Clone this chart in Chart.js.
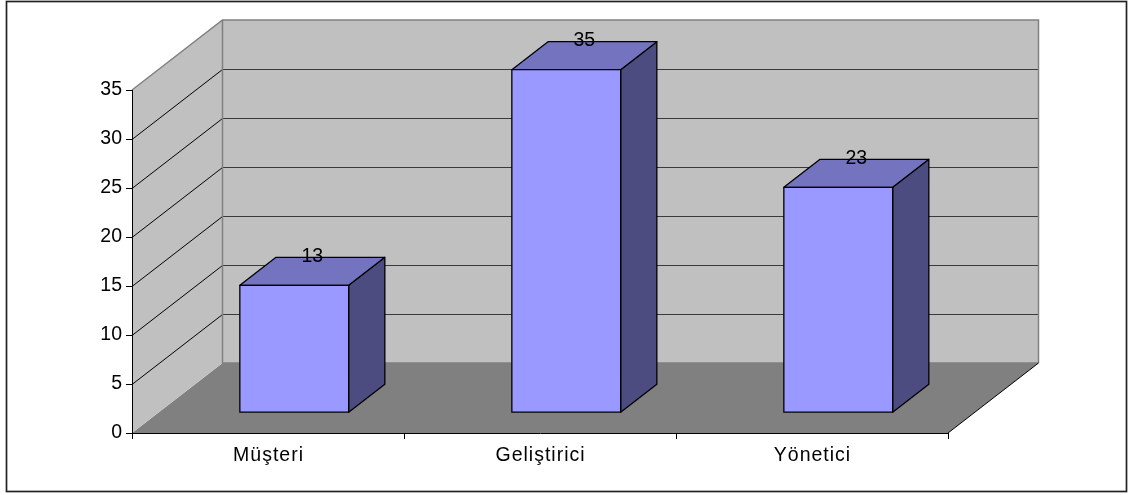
<!DOCTYPE html>
<html>
<head>
<meta charset="utf-8">
<script src="https://cdn.jsdelivr.net/npm/chart.js@4.4.0/dist/chart.umd.min.js"></script>
<style>
  html, body { margin: 0; padding: 0; background: #fff; }
  canvas { display: block; }
</style>
</head>
<body>
<canvas id="roleChart" width="1128" height="495"></canvas>
<script>
const categories = ['Müşteri', 'Geliştirici', 'Yönetici'];
const counts = [13, 35, 23];
const yMin = 0;
const yMax = 35;
const yStep = 5;

const FONT = '"Liberation Sans", Arial, sans-serif';

// oblique projection of the plot box: how far the back wall is pushed right/up
const DEPTH_X = 90.5;
const DEPTH_Y = 70;
// bars start 29% into the box and are 40% of its depth deep
const BAR_FRONT = 0.29;
const BAR_DEPTH = 0.4;

function poly(ctx, pts, fill, stroke, lw) {
    ctx.beginPath();
    ctx.moveTo(pts[0][0], pts[0][1]);
    for (let i = 1; i < pts.length; i++) ctx.lineTo(pts[i][0], pts[i][1]);
    ctx.closePath();
    if (fill) { ctx.fillStyle = fill; ctx.fill(); }
    if (stroke) { ctx.strokeStyle = stroke; ctx.lineWidth = lw || 1; ctx.stroke(); }
}

const box3d = {
    id: 'box3d',
    beforeDraw(chart) {
        const { ctx, chartArea: a, scales: { y } } = chart;
        const L = a.left, R = a.right;
        const B = y.getPixelForValue(yMin), T = y.getPixelForValue(yMax);
        const bl = L + DEPTH_X, br = R + DEPTH_X;
        ctx.save();
        // floor
        poly(ctx, [[L, B], [R, B], [br, B - DEPTH_Y], [bl, B - DEPTH_Y]], '#808080');
        // left side wall
        poly(ctx, [[L, B], [L, T], [bl, T - DEPTH_Y], [bl, B - DEPTH_Y]], '#C0C0C0');
        // back wall
        poly(ctx, [[bl, T - DEPTH_Y], [br, T - DEPTH_Y], [br, B - DEPTH_Y], [bl, B - DEPTH_Y]], '#C0C0C0');

        // gridlines on the back and side walls
        ctx.lineWidth = 1;
        for (let v = yMin + yStep; v < yMax; v += yStep) {
            const py = Math.round(y.getPixelForValue(v)) + 0.5;
            ctx.strokeStyle = '#000';
            ctx.beginPath();
            ctx.moveTo(L, py);
            ctx.lineTo(bl, py - DEPTH_Y);
            ctx.stroke();
            ctx.strokeStyle = '#3a3a3a';
            ctx.beginPath();
            ctx.moveTo(bl, py - DEPTH_Y);
            ctx.lineTo(br, py - DEPTH_Y);
            ctx.stroke();
        }

        // wall edges
        ctx.strokeStyle = '#808080';
        ctx.lineWidth = 1.5;
        ctx.beginPath();
        ctx.moveTo(L, T);
        ctx.lineTo(bl, T - DEPTH_Y);
        ctx.lineTo(br, T - DEPTH_Y);
        ctx.lineTo(br, B - DEPTH_Y);
        ctx.moveTo(bl, T - DEPTH_Y);
        ctx.lineTo(bl, B - DEPTH_Y);
        ctx.lineTo(br, B - DEPTH_Y);
        ctx.stroke();

        // right edge of the floor
        ctx.strokeStyle = '#000';
        ctx.lineWidth = 1;
        ctx.beginPath();
        ctx.moveTo(R, B);
        ctx.lineTo(br, B - DEPTH_Y);
        ctx.stroke();
        ctx.restore();
    },
    afterDatasetsDraw(chart) {
        const { ctx } = chart;
        const meta = chart.getDatasetMeta(0);
        const fx = DEPTH_X * BAR_FRONT, fy = DEPTH_Y * BAR_FRONT;
        const dx = DEPTH_X * BAR_DEPTH, dy = DEPTH_Y * BAR_DEPTH;
        ctx.save();
        ctx.lineJoin = 'round';
        meta.data.forEach((bar, i) => {
            const l = bar.x - bar.width / 2 + fx;
            const r = bar.x + bar.width / 2 + fx;
            const t = bar.y - fy;
            const b = bar.base - fy;
            poly(ctx, [[r, t], [r + dx, t - dy], [r + dx, b - dy], [r, b]], '#4C4C80', '#000', 1.3);
            poly(ctx, [[l, t], [r, t], [r + dx, t - dy], [l + dx, t - dy]], '#7373C0', '#000', 1.3);
            poly(ctx, [[l, t], [r, t], [r, b], [l, b]], '#9999FF', '#000', 1.3);

            // value above the bar
            ctx.fillStyle = '#000';
            ctx.font = '19.5px ' + FONT;
            ctx.textAlign = 'center';
            ctx.textBaseline = 'alphabetic';
            ctx.fillText(String(counts[i]), (l + r) / 2 + dx / 2, t - dy + 4.7);
        });
        ctx.restore();
    },
    afterDraw(chart) {
        const { ctx, scales: { x } } = chart;
        ctx.save();
        // category names under the floor
        ctx.fillStyle = '#000';
        ctx.font = '19.5px ' + FONT;
        ctx.letterSpacing = '1px';
        ctx.textAlign = 'center';
        ctx.textBaseline = 'alphabetic';
        categories.forEach((c, i) => {
            ctx.fillText(c, x.getPixelForValue(i) + 0.5, 461.3);
        });
        ctx.letterSpacing = '0px';
        // frame around the whole chart
        ctx.strokeStyle = '#222';
        ctx.lineWidth = 1.7;
        ctx.strokeRect(6.5, 1.5, 1120, 490);
        ctx.restore();
    }
};

new Chart(document.getElementById('roleChart'), {
    type: 'bar',
    data: {
        labels: categories,
        datasets: [{
            data: counts,
            backgroundColor: 'rgba(0,0,0,0)',
            borderWidth: 0,
            barPercentage: 0.4,
            categoryPercentage: 1
        }]
    },
    options: {
        responsive: false,
        animation: false,
        events: [],
        layout: { padding: { top: 90, right: 180, bottom: 0, left: 0 } },
        plugins: {
            legend: { display: false },
            tooltip: { enabled: false }
        },
        scales: {
            x: {
                grid: { drawOnChartArea: false, tickLength: 6, color: '#000' },
                border: { color: '#000' },
                ticks: { display: false },
                afterFit(s) { s.height = 62; }
            },
            y: {
                min: yMin,
                max: yMax,
                ticks: {
                    stepSize: yStep,
                    color: '#000',
                    padding: 4,
                    font: { family: FONT, size: 19.5 }
                },
                grid: { drawOnChartArea: false, tickLength: 6, color: '#000' },
                border: { color: '#000' },
                afterFit(s) { s.width = 132; }
            }
        }
    },
    plugins: [box3d]
});
</script>
</body>
</html>
